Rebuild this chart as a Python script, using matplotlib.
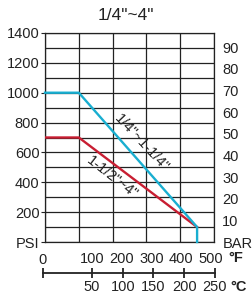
"""
Pressure / temperature rating chart, 1/4"~4" valves.
"""
import matplotlib
matplotlib.use("Agg")
import matplotlib.pyplot as plt
import matplotlib.transforms as mtransforms

plt.rcParams.update({
    "font.family": ["Liberation Sans", "DejaVu Sans"],
    "font.size": 10.5,
})

INK   = "#222222"
CYAN  = "#19aed0"
RED   = "#c81e32"

# grid temperature units (0..500, one column per 100)
cyan_temp = [0, 100, 450, 450]
cyan_psi  = [1000, 1000, 100, 0]
red_temp  = [0, 100, 450]
red_psi   = [700, 700, 100]

psi_ticks = [0, 200, 400, 600, 800, 1000, 1200, 1400]
psi_labels = ["PSI", "200", "400", "600", "800", "1000", "1200", "1400"]
bar_ticks = [0, 10, 20, 30, 40, 50, 60, 70, 80, 90]
bar_labels = ["BAR"] + [str(b) for b in bar_ticks[1:]]
PSI_PER_BAR = 14.5

f_ticks = [100, 200, 300, 400, 500]
c_ticks = [50, 100, 150, 200, 250]

W, H = 253, 298
fig = plt.figure(figsize=(W / 100, H / 100), dpi=100)

def rect(x0, y0, x1, y1):
    return [x0 / W, 1 - y1 / H, (x1 - x0) / W, (y1 - y0) / H]

ax = fig.add_axes(rect(45, 33, 214, 242))
ax.set_xlim(0, 500)
ax.set_ylim(0, 1400)
ax.set_xticks(range(0, 501, 100))
ax.set_yticks(psi_ticks)
ax.set_yticklabels(psi_labels, color=INK)
ax.set_yticks(range(100, 1400, 200), minor=True)
ax.tick_params(axis="x", length=0, labelbottom=False)
ax.tick_params(axis="y", which="major", length=3, width=0.8, color=INK, pad=1)
ax.tick_params(axis="y", which="minor", length=0)
ax.grid(True, which="both", color=INK, linewidth=0.9)
for s in ax.spines.values():
    s.set_color(INK)
    s.set_linewidth(0.9)

ax.plot(cyan_temp, cyan_psi, color=CYAN, lw=1.7, zorder=4, clip_on=False)
ax.plot(red_temp, red_psi, color=RED, lw=1.7, zorder=3)

ax.text(286, 665, '1/4"~1-1/4"', rotation=-47, rotation_mode="anchor",
        ha="center", va="center", fontsize=10.5, color=INK)
ax.text(198, 430, '1-1/2"~4"', rotation=-38, rotation_mode="anchor",
        ha="center", va="center", fontsize=10.5, color=INK)

ax2 = ax.twinx()
ax2.set_ylim(0, 1400 / PSI_PER_BAR)
ax2.set_yticks(bar_ticks)
ax2.set_yticklabels(bar_labels, color=INK)
ax2.tick_params(axis="y", length=0, pad=6)
for s in ax2.spines.values():
    s.set_visible(False)

# °F label row
axF = fig.add_axes(rect(45, 254, 214, 264))
axF.set_xlim(100 - 47 / 0.2975, 100 + 122 / 0.2975)
axF.axis("off")
for f in f_ticks:
    axF.text(f, 0.5, str(f), ha="center", va="center", color=INK,
             transform=mtransforms.blended_transform_factory(axF.transData, axF.transAxes))

# °C scale
axC = fig.add_axes(rect(43, 268, 215, 278))
c_lo = 50 - 49 / 0.615
axC.set_xlim(c_lo, 250)
axC.set_ylim(-1, 1)
axC.axis("off")
axC.plot([c_lo, 250], [0, 0], color=INK, lw=1.3, clip_on=False)
axC.plot([c_lo] + c_ticks, [0] * (len(c_ticks) + 1), ls="none", marker="|",
         ms=7, mew=1.3, color=INK, clip_on=False)
for c in c_ticks:
    axC.text(c, -2.8, str(c), ha="center", va="center", color=INK)
axC.text(c_lo, 2.6, "0", ha="center", va="center", color=INK)

fig.text(236 / W, 1 - 258 / H, "°F", ha="center", va="center", color=INK,
         fontweight="bold")
fig.text(239 / W, 1 - 287 / H, "°C", ha="center", va="center", color=INK,
         fontweight="bold")

fig.text(126 / W, 1 - 15 / H, '1/4"~4"', ha="center", va="center", color=INK,
         fontsize=12.5)

fig.savefig("out.png", dpi=100)
